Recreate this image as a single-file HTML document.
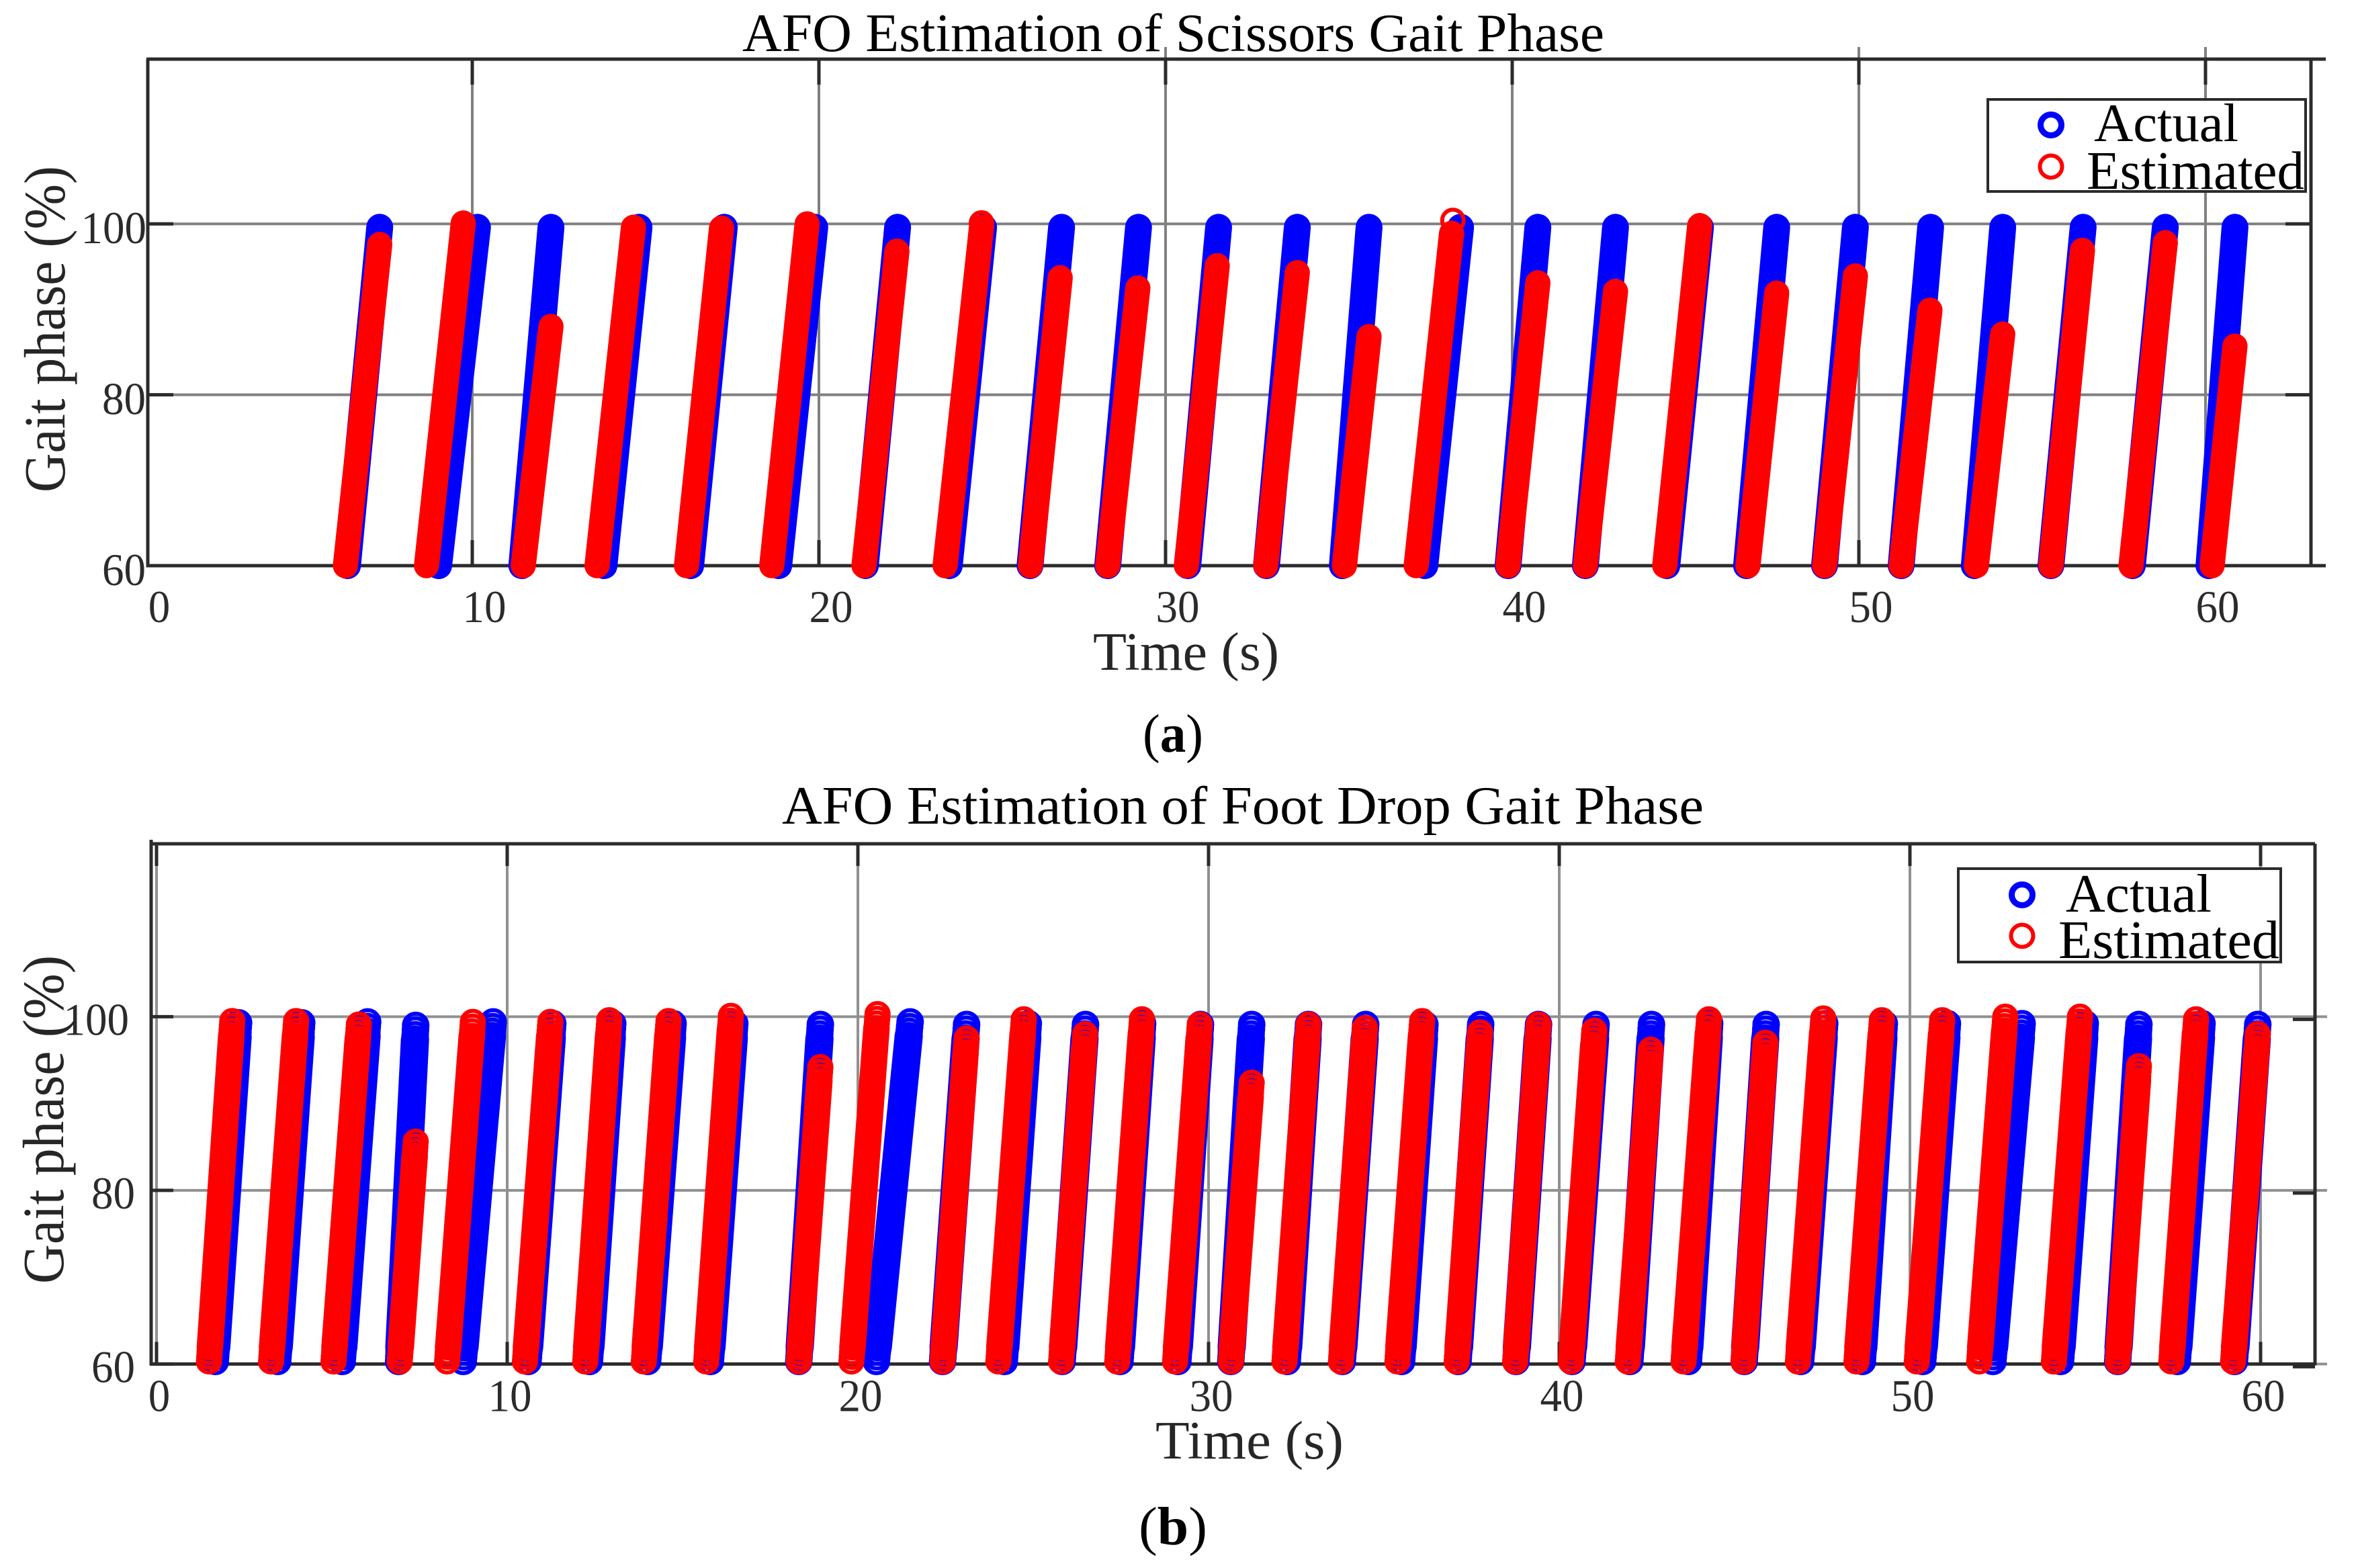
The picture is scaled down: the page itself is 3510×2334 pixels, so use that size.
<!DOCTYPE html>
<html lang="en">
<head>
<meta charset="utf-8">
<title>AFO Estimation of Gait Phase</title>
<style>
html,body{margin:0;padding:0;background:#fff;}
svg{display:block;}
text{font-family:"Liberation Serif",serif;}
.t{fill:#000;font-size:80px;}
.l{fill:#262626;font-size:80px;}
.y{fill:#262626;font-size:87px;}
</style>
</head>
<body>
<svg id="figure" xmlns="http://www.w3.org/2000/svg" width="3510" height="2334" viewBox="0 0 3510 2334">
  <rect x="0" y="0" width="3510" height="2334" fill="#fff"/>
  <g id="panelA"></g>
  <g id="panelB"></g>

  <text class="t" x="1105" y="76" textLength="1283" lengthAdjust="spacingAndGlyphs">AFO Estimation of Scissors Gait Phase</text>
  <text class="l" x="1627" y="997" textLength="277" lengthAdjust="spacingAndGlyphs">Time (s)</text>
  <text class="y" transform="translate(96,733) rotate(-90)" textLength="486" lengthAdjust="spacingAndGlyphs">Gait phase (%)</text>
  <text class="t" x="1701" y="1119" textLength="90" lengthAdjust="spacingAndGlyphs">(<tspan font-weight="bold">a</tspan>)</text>

  <text class="t" x="1164" y="1226" textLength="1372" lengthAdjust="spacingAndGlyphs">AFO Estimation of Foot Drop Gait Phase</text>
  <text class="l" x="1720" y="2171" textLength="280" lengthAdjust="spacingAndGlyphs">Time (s)</text>
  <text class="y" transform="translate(94,1911) rotate(-90)" textLength="489" lengthAdjust="spacingAndGlyphs">Gait phase (%)</text>
  <text class="t" x="1695" y="2299" textLength="102" lengthAdjust="spacingAndGlyphs">(<tspan font-weight="bold">b</tspan>)</text>

  <g id="legendA">
    <rect x="2959" y="148" width="473" height="137" fill="#fff" stroke="#2b2b2b" stroke-width="4"/>
    <circle cx="3053" cy="186" r="15.5" fill="none" stroke="#0000ff" stroke-width="9"/>
    <text class="t" x="3117" y="210" textLength="215" lengthAdjust="spacingAndGlyphs">Actual</text>
    <circle cx="3053" cy="248" r="16.5" fill="none" stroke="#ff0000" stroke-width="6"/>
    <text class="t" x="3106" y="281" textLength="324" lengthAdjust="spacingAndGlyphs">Estimated</text>
  </g>
  <g id="legendB">
    <rect x="2915" y="1293" width="480" height="139" fill="#fff" stroke="#2b2b2b" stroke-width="4"/>
    <circle cx="3010" cy="1332" r="15.5" fill="none" stroke="#0000ff" stroke-width="9"/>
    <text class="t" x="3075" y="1357" textLength="217" lengthAdjust="spacingAndGlyphs">Actual</text>
    <circle cx="3010" cy="1393" r="16.5" fill="none" stroke="#ff0000" stroke-width="6"/>
    <text class="t" x="3064" y="1426" textLength="329" lengthAdjust="spacingAndGlyphs">Estimated</text>
  </g>
</svg>
<script>
// Shared tick labels
const xTickValues = [0, 10, 20, 30, 40, 50, 60];
const yTickValues = [60, 80, 100];

// Panel (a) Scissors gait: time at 60 %, time at peak, and peak % for each stride
const actualStartA = [6.40, 9.03, 11.43, 13.80, 16.30, 18.84, 21.34, 23.76, 26.09, 28.33, 30.64, 32.91, 35.10, 37.48, 39.88, 42.11, 44.46, 46.76, 49.01, 51.22, 53.33, 55.54, 57.89, 60.10];
const actualEndA = [7.33, 10.15, 12.27, 14.81, 17.27, 19.88, 22.27, 24.75, 27.00, 29.22, 31.53, 33.80, 35.87, 38.51, 40.74, 42.98, 45.43, 47.63, 49.90, 52.07, 54.15, 56.47, 58.84, 60.85];
const actualPeakA = [99.6, 99.6, 99.6, 99.6, 99.6, 99.6, 99.6, 99.6, 99.6, 99.6, 99.6, 99.6, 99.6, 99.6, 99.6, 99.6, 99.6, 99.6, 99.6, 99.6, 99.6, 99.6, 99.6, 99.6];
const estimatedStartA = [6.34, 8.68, 11.47, 13.60, 16.18, 18.64, 21.30, 23.64, 26.10, 28.33, 30.60, 32.89, 35.16, 37.23, 39.88, 42.11, 44.40, 46.80, 49.01, 51.22, 53.39, 55.54, 57.85, 60.19];
const estimatedEndA = [7.33, 9.74, 12.27, 14.65, 17.19, 19.66, 22.25, 24.69, 26.96, 29.20, 31.49, 33.80, 35.87, 38.25, 40.74, 42.98, 45.41, 47.63, 49.90, 52.05, 54.15, 56.45, 58.84, 60.85];
const estimatedPeakA = [97.6, 100.1, 88.0, 99.6, 99.5, 100.0, 96.8, 99.6, 93.7, 92.5, 95.1, 94.3, 86.8, 98.9, 93.1, 92.1, 99.8, 91.9, 93.9, 89.9, 87.1, 96.9, 97.8, 85.7];
const estimatedExtraTimeA = [24.69, 38.29];
const estimatedExtraValueA = [100.1, 100.4];

// Panel (b) Foot drop gait
const actualStartB = [1.67, 3.45, 5.29, 6.90, 8.74, 10.59, 12.34, 14.00, 15.79, 18.31, 20.52, 22.41, 24.17, 25.82, 27.47, 29.12, 30.63, 32.24, 33.81, 35.50, 37.11, 38.76, 40.36, 42.01, 43.68, 45.27, 46.88, 48.64, 50.36, 52.36, 54.29, 55.92, 57.62, 59.25];
const actualEndB = [2.34, 4.14, 6.02, 7.39, 9.60, 11.30, 13.01, 14.73, 16.49, 18.93, 21.49, 23.10, 24.86, 26.49, 28.12, 29.77, 31.23, 32.85, 34.48, 36.17, 37.76, 39.41, 41.05, 42.63, 44.29, 45.90, 47.57, 49.27, 51.07, 53.20, 55.00, 56.53, 58.33, 59.92];
const actualPeakB = [99.3, 99.3, 99.4, 99.0, 99.4, 99.2, 99.2, 99.2, 99.2, 99.1, 99.4, 99.1, 99.2, 99.1, 99.2, 99.1, 99.1, 99.1, 99.1, 99.1, 99.1, 99.1, 99.1, 99.1, 99.2, 99.1, 99.2, 99.2, 99.2, 99.2, 99.2, 99.1, 99.2, 99.1];
const estimatedStartB = [1.49, 3.26, 5.04, 6.93, 8.28, 10.50, 12.22, 13.89, 15.67, 18.31, 19.81, 22.41, 24.00, 25.79, 27.39, 29.04, 30.63, 32.16, 33.77, 35.38, 37.07, 38.74, 40.33, 41.95, 43.54, 45.25, 46.80, 48.47, 50.19, 51.97, 54.10, 55.92, 57.45, 59.21];
const estimatedEndB = [2.16, 3.98, 5.77, 7.39, 9.02, 11.23, 12.91, 14.60, 16.38, 18.93, 20.56, 23.10, 24.73, 26.48, 28.10, 29.75, 31.23, 32.85, 34.46, 36.09, 37.74, 39.41, 41.00, 42.61, 44.27, 45.88, 47.53, 49.20, 50.92, 52.72, 54.85, 56.53, 58.16, 59.92];
const estimatedPeakB = [99.5, 99.5, 99.1, 85.6, 99.4, 99.4, 99.6, 99.5, 100.1, 94.2, 100.3, 97.5, 99.7, 98.0, 99.7, 99.1, 92.4, 99.1, 98.7, 99.5, 98.2, 99.1, 98.4, 96.2, 99.7, 97.0, 99.8, 99.6, 99.6, 100.0, 100.0, 94.3, 99.7, 98.0];

const NS = 'http://www.w3.org/2000/svg';
const BLUE = '#0000ff', RED = '#ff0000';

function xA(t) { return 187 + 51.6 * t; }
function yA(v) { return 842 - (v - 60) * 12.72; }
function xB(t) { return 233 + 52.2 * t; }
function yB(v) { return 2030.4 - (v - 60) * 12.925; }

function shape(parent, tag) {
  const el = document.createElementNS(NS, tag);
  parent.appendChild(el);
  return el;
}
function segment(el, x1, y1, x2, y2, color, width) {
  el.setAttribute('x1', x1);
  el.setAttribute('y1', y1);
  el.setAttribute('x2', x2);
  el.setAttribute('y2', y2);
  el.setAttribute('stroke', color);
  el.setAttribute('stroke-width', width);
}
function ring(el, cx, cy, r, color, width) {
  el.setAttribute('cx', cx);
  el.setAttribute('cy', cy);
  el.setAttribute('r', r);
  el.setAttribute('fill', 'none');
  el.setAttribute('stroke', color);
  el.setAttribute('stroke-width', width);
}
function label(el, x, y, anchor, size, length, txt) {
  el.setAttribute('x', x);
  el.setAttribute('y', y);
  el.setAttribute('text-anchor', anchor);
  el.setAttribute('font-size', size);
  el.setAttribute('fill', '#2b2b2b');
  el.setAttribute('textLength', length);
  el.setAttribute('lengthAdjust', 'spacingAndGlyphs');
  el.textContent = txt;
}

function drawFrame(root, cfg) {
  const xf = cfg.x, yf = cfg.y;
  xTickValues.forEach(function (tv) {
    if (xf(tv) > cfg.left) {
      const top = cfg.overshoot.indexOf(tv) >= 0 ? cfg.top - 18 : cfg.top;
      const g = shape(root, 'line');
      segment(g, xf(tv), top, xf(tv), cfg.bottom, cfg.gridColor, 4);
      
      
      const t1 = shape(root, 'line');
      segment(t1, xf(tv), cfg.top, xf(tv), cfg.top + cfg.tickLen, '#2b2b2b', 5);
      
      
      const t2 = shape(root, 'line');
      segment(t2, xf(tv), cfg.bottom - cfg.tickLen, xf(tv), cfg.bottom, '#2b2b2b', 5);
      
      
    }
    const s = shape(root, 'text');
    const offset = tv === 0 ? cfg.zeroLabelOffset : cfg.xLabelOffset;
    label(s, xf(tv) + offset, cfg.xLabelY, 'middle', 68, String(tv).length * cfg.digitW, String(tv));
    
    
  });
  yTickValues.forEach(function (tv) {
    const g = shape(root, 'line');
    segment(g, cfg.left, yf(tv), cfg.gridRight, yf(tv), cfg.gridColor, 4);
    
    
    const t1 = shape(root, 'line');
    segment(t1, cfg.left, yf(tv), cfg.left + cfg.tickLen, yf(tv), '#2b2b2b', 5);
    
    
    const t2 = shape(root, 'line');
    segment(t2, cfg.right - cfg.tickLen, yf(tv) + cfg.rightTickShift, cfg.right, yf(tv) + cfg.rightTickShift, '#2b2b2b', 5);
    
    
    const s = shape(root, 'text');
    const edge = tv === 100 ? cfg.hundredLabelX : cfg.yLabelX;
    label(s, edge, yf(tv) + cfg.yLabelDy, 'end', 68, String(tv).length * cfg.digitW, String(tv));
    
    
  });
  const left = shape(root, 'line');
  segment(left, cfg.left, cfg.top - cfg.leftOver, cfg.left, cfg.bottom + 2, '#2b2b2b', 5);
  
  
  const right = shape(root, 'line');
  segment(right, cfg.right, cfg.top, cfg.right, cfg.bottom + 2, '#2b2b2b', 5);
  
  
  const upper = shape(root, 'line');
  segment(upper, cfg.left - 2, cfg.top, cfg.lineRight, cfg.top, '#2b2b2b', 5);
  
  
  const lower = shape(root, 'line');
  segment(lower, cfg.left - 2, cfg.bottom, cfg.lineRight, cfg.bottom, '#2b2b2b', 5);
  
  
}

function drawStrides(root, name, xf, yf, starts, ends, peaks, color, width, baseV, rings, ringR, ringW) {
  const group = shape(root, 'g');
  
  
  starts.forEach(function (s, i) {
    const e = ends[i], p = peaks[i];
    const at = function (v) { return s + (e - s) * (v - 60) / (p - 60); };
    const inset = rings ? 1.62 : 0;
    const body = shape(group, 'line');
    segment(body, xf(at(baseV + inset)), yf(baseV + inset), xf(at(p - inset)), yf(p - inset), color, width);
    body.setAttribute('stroke-linecap', 'round');
    
    
    if (rings) {
      [0, 0.54, 1.08].forEach(function (d) {
        const top = shape(group, 'circle');
        ring(top, xf(at(p - d)), yf(p - d), ringR, color, ringW);
        
        
        const low = shape(group, 'circle');
        ring(low, xf(at(baseV + d)), yf(baseV + d), ringR, color, ringW);
        
        
      });
    }
  });
  return group;
}

const panelA = document.getElementById('panelA');
const panelB = document.getElementById('panelB');

drawFrame(panelA, {
  x: xA, y: yA, top: 88, bottom: 842, left: 220, right: 3440, gridRight: 3440, lineRight: 3462,
  tickLen: 38, leftOver: 0, overshoot: [30, 50, 60], rightTickShift: 0, gridColor: '#808080',
  xLabelY: 926, xLabelOffset: 18, zeroLabelOffset: 50, yLabelX: 217, hundredLabelX: 218, yLabelDy: 29, digitW: 32.5
});
drawFrame(panelB, {
  x: xB, y: yB, top: 1256, bottom: 2030.4, left: 225, right: 3446, gridRight: 3464, lineRight: 3446,
  tickLen: 33, leftOver: 6, overshoot: [], rightTickShift: 4, gridColor: '#909090',
  xLabelY: 2100.5, xLabelOffset: 4, zeroLabelOffset: 4, yLabelX: 201, hundredLabelX: 192, yLabelDy: 27, digitW: 32.5
});

drawStrides(panelA, 'scissors-actual-series', xA, yA, actualStartA, actualEndA, actualPeakA, BLUE, 40, 60, false);
const estA = drawStrides(panelA, 'scissors-estimated-series', xA, yA, estimatedStartA, estimatedEndA, estimatedPeakA, RED, 37.5, 60, false);
estimatedExtraTimeA.forEach(function (t, i) {
  const m = shape(estA, 'circle');
  ring(m, xA(t), yA(estimatedExtraValueA[i]), 16, RED, 6);
  
  
});

drawStrides(panelB, 'foot-drop-actual-series', xB, yB, actualStartB, actualEndB, actualPeakB, BLUE, 42, 60.3, true, 17.5, 6);
drawStrides(panelB, 'foot-drop-estimated-series', xB, yB, estimatedStartB, estimatedEndB, estimatedPeakB, RED, 39.5, 60.3, true, 16.5, 6);
</script>
</body>
</html>
